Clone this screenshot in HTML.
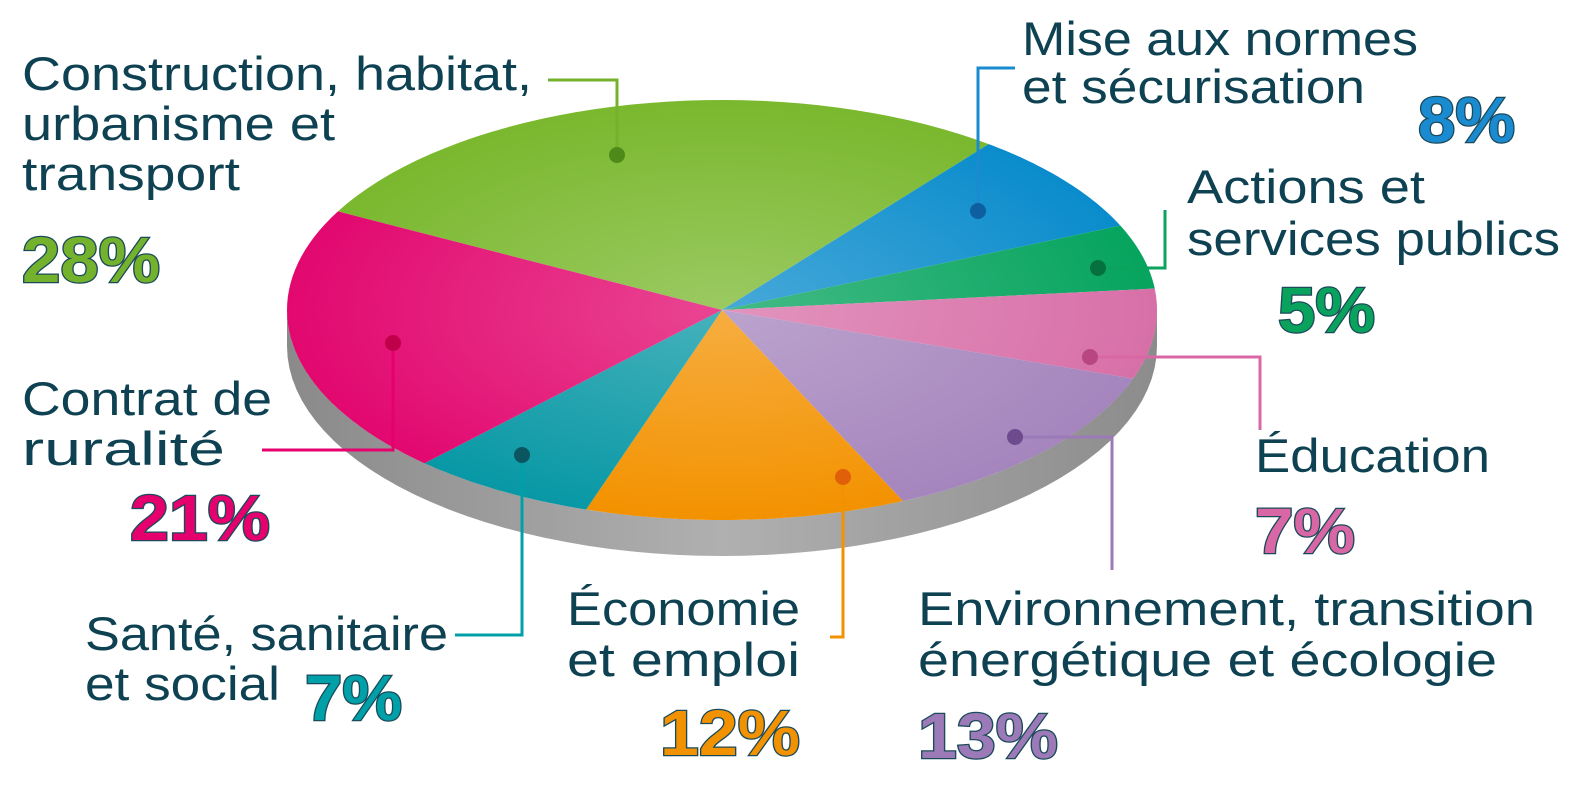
<!DOCTYPE html>
<html><head><meta charset="utf-8"><style>
html,body{margin:0;padding:0;background:#fff}
svg{display:block}
.lbl{font-family:"Liberation Sans",sans-serif;font-size:47px;fill:#0e4252}
.pct{font-family:"Liberation Sans",sans-serif;font-size:64px;font-weight:bold;stroke:#1b4a5a;stroke-width:2.5px;paint-order:stroke}
</style></head><body>
<svg id="chart" width="1584" height="792" viewBox="0 0 1584 792">
<defs>
<radialGradient id="hl" cx="0.5" cy="0.5" r="0.5">
<stop offset="0" stop-color="#fff" stop-opacity="0.25"/>
<stop offset="1" stop-color="#fff" stop-opacity="0"/>
</radialGradient>
<linearGradient id="side" x1="0" y1="0" x2="1" y2="0">
<stop offset="0" stop-color="#8a8a8a"/><stop offset="0.5" stop-color="#b0b0b0"/><stop offset="1" stop-color="#8c8c8c"/>
</linearGradient>
</defs>
<g id="pie"></g>
<g id="annot">
<text class="lbl" x="22" y="90" textLength="510" lengthAdjust="spacingAndGlyphs">Construction, habitat,</text>
<text class="lbl" x="22" y="140" textLength="313" lengthAdjust="spacingAndGlyphs">urbanisme et</text>
<text class="lbl" x="22" y="190" textLength="218" lengthAdjust="spacingAndGlyphs">transport</text>
<text class="pct" x="22" y="282" fill="#74b22d" textLength="138" lengthAdjust="spacingAndGlyphs">28%</text>
<text class="lbl" x="1022" y="55" textLength="396" lengthAdjust="spacingAndGlyphs">Mise aux normes</text>
<text class="lbl" x="1022" y="103" textLength="343" lengthAdjust="spacingAndGlyphs">et sécurisation</text>
<text class="pct" x="1418" y="142" fill="#1a8bd0" textLength="97" lengthAdjust="spacingAndGlyphs">8%</text>
<text class="lbl" x="1187" y="203" textLength="238" lengthAdjust="spacingAndGlyphs">Actions et</text>
<text class="lbl" x="1187" y="255" textLength="373" lengthAdjust="spacingAndGlyphs">services publics</text>
<text class="pct" x="1278" y="332" fill="#0aa35e" textLength="97" lengthAdjust="spacingAndGlyphs">5%</text>
<text class="lbl" x="1255" y="472" textLength="235" lengthAdjust="spacingAndGlyphs">Éducation</text>
<text class="pct" x="1255" y="553" fill="#d967a5" textLength="100" lengthAdjust="spacingAndGlyphs">7%</text>
<text class="lbl" x="918" y="625" textLength="617" lengthAdjust="spacingAndGlyphs">Environnement, transition</text>
<text class="lbl" x="918" y="676" textLength="579" lengthAdjust="spacingAndGlyphs">énergétique et écologie</text>
<text class="pct" x="918" y="758" fill="#9c7ab8" textLength="140" lengthAdjust="spacingAndGlyphs">13%</text>
<text class="lbl" x="567" y="625" textLength="233" lengthAdjust="spacingAndGlyphs">Économie</text>
<text class="lbl" x="567" y="676" textLength="233" lengthAdjust="spacingAndGlyphs">et emploi</text>
<text class="pct" x="660" y="755" fill="#f29200" textLength="140" lengthAdjust="spacingAndGlyphs">12%</text>
<text class="lbl" x="85" y="650" textLength="363" lengthAdjust="spacingAndGlyphs">Santé, sanitaire</text>
<text class="lbl" x="85" y="700" textLength="195" lengthAdjust="spacingAndGlyphs">et social</text>
<text class="pct" x="305" y="720" fill="#00a0a8" textLength="97" lengthAdjust="spacingAndGlyphs">7%</text>
<text class="lbl" x="22" y="415" textLength="250" lengthAdjust="spacingAndGlyphs">Contrat de</text>
<text class="lbl" x="22" y="465" textLength="203" lengthAdjust="spacingAndGlyphs">ruralité</text>
<text class="pct" x="130" y="540" fill="#e6006e" textLength="140" lengthAdjust="spacingAndGlyphs">21%</text>
<g fill="none" stroke-width="3">
<polyline points="548,80 617,80 617,155" stroke="#74b22d"/>
<polyline points="1015,68 978,68 978,211" stroke="#1a8bd0"/>
<polyline points="1165,210 1165,268 1098,268" stroke="#0aa35e"/>
<polyline points="1090,357 1260,357 1260,430" stroke="#d967a5"/>
<polyline points="1015,437 1112,437 1112,570" stroke="#9c7ab8"/>
<polyline points="843,477 843,637 830,637" stroke="#f29200"/>
<polyline points="522,455 522,635 455,635" stroke="#00a0a8"/>
<polyline points="393,343 393,450 262,450" stroke="#e6006e"/>
</g>
<circle cx="617" cy="155" r="8" fill="#4e8a1a"/>
<circle cx="978" cy="211" r="8" fill="#0d5fa0"/>
<circle cx="1098" cy="268" r="8" fill="#06703f"/>
<circle cx="1090" cy="357" r="8" fill="#b84680"/>
<circle cx="1015" cy="437" r="8" fill="#6d4b8e"/>
<circle cx="843" cy="477" r="8" fill="#e0600a"/>
<circle cx="522" cy="455" r="8" fill="#0b5560"/>
<circle cx="393" cy="343" r="8" fill="#c0004a"/>
</g>
</svg>
<script>
const categories = ["Construction, habitat, urbanisme et transport","Mise aux normes et sécurisation","Actions et services publics","Éducation","Environnement, transition énergétique et écologie","Économie et emploi","Santé, sanitaire et social","Contrat de ruralité"];
const values = [28, 8, 5, 7, 13, 12, 7, 21];
const colors = ["#7ab82e","#0a8ccc","#06a45e","#d870a8","#a585bd","#f39200","#0898a5","#e2086f"];
const slugs = ["construction","normes","actions","education","environnement","economie","sante","ruralite"];

const NS = "http://www.w3.org/2000/svg";
const cx = 722, cy = 310, rx = 435, ry = 210, depth = 36;
const startDeg = -152;
const g = document.getElementById("pie");
const total = values.reduce((a,b)=>a+b,0);
const pt = (t, dy) => [cx + rx*Math.cos(t), cy + ry*Math.sin(t) + (dy||0)];

const side = document.createElementNS(NS, "path");
let d = "M" + pt(0).join(",");
for (let i=0;i<=60;i++){ const t=Math.PI*i/60; d += " L" + pt(t).join(","); }
for (let i=60;i>=0;i--){ const t=Math.PI*i/60; d += " L" + pt(t,depth).join(","); }
side.setAttribute("d", d + " Z");
side.setAttribute("fill", "url(#side)");


g.appendChild(side);

let acc = 0;
values.forEach((v, i) => {
  const a0 = (startDeg + 360*acc/total) * Math.PI/180;
  acc += v;
  const a1 = (startDeg + 360*acc/total) * Math.PI/180;
  let p = "M" + cx + "," + cy;
  const n = 40;
  for (let k=0;k<=n;k++){ const t=a0+(a1-a0)*k/n; p += " L" + pt(t).join(","); }
  const s = document.createElementNS(NS, "path");
  s.setAttribute("d", p + " Z");
  s.setAttribute("fill", colors[i]);
  
  
  g.appendChild(s);
});
const hl = document.createElementNS(NS, "ellipse");
hl.setAttribute("cx", cx); hl.setAttribute("cy", cy);
hl.setAttribute("rx", rx); hl.setAttribute("ry", ry);
hl.setAttribute("fill", "url(#hl)");


g.appendChild(hl);
</script>
</body></html>
